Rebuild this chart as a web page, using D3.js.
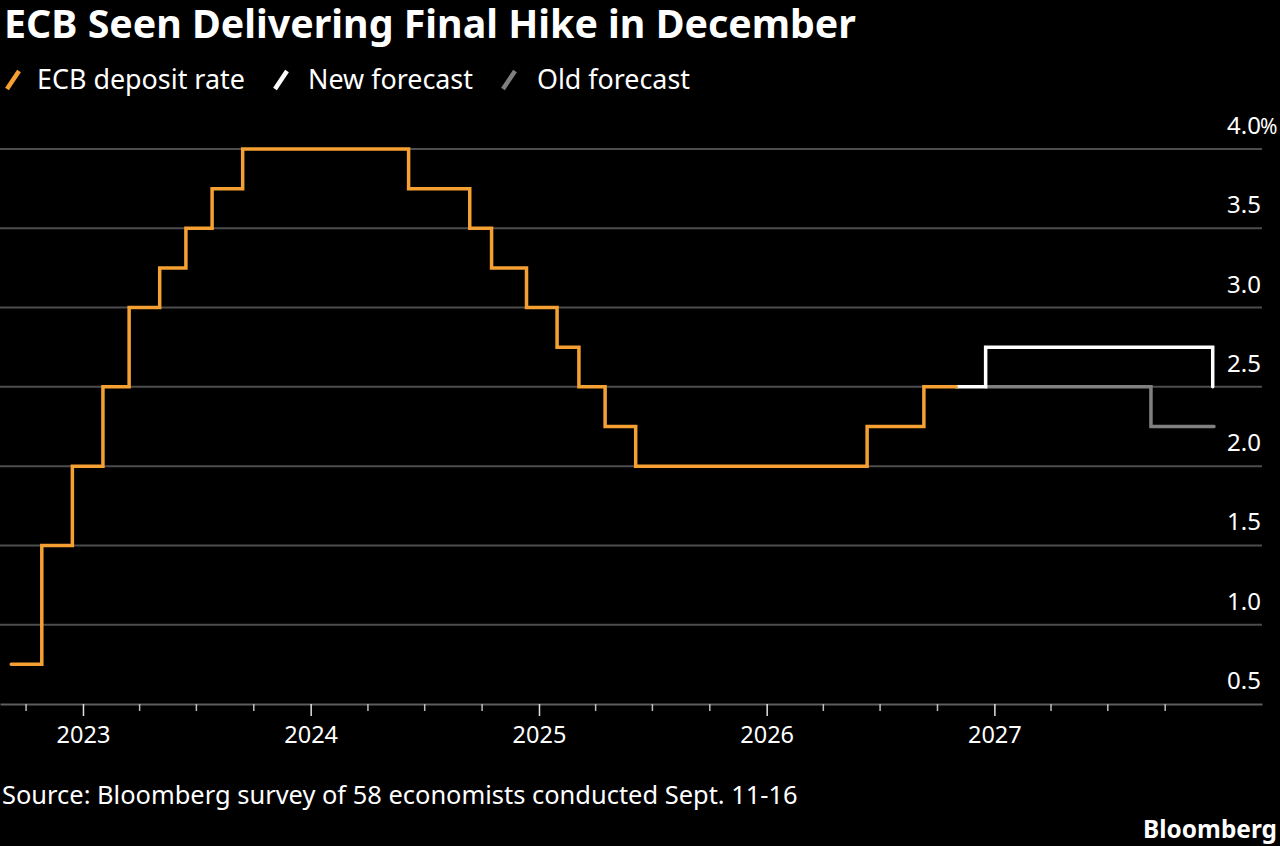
<!DOCTYPE html>
<html>
<head>
<meta charset="utf-8">
<script src="https://cdn.jsdelivr.net/npm/d3@7"></script>
<style>
  body { margin: 0; background: #000; }
  svg { display: block; }
  text { font-family: "Noto Sans", "Open Sans", sans-serif; fill: #fff; }
</style>
</head>
<body>
<div class="chart"></div>
<script>
const svgWidth = 1280;
const svgHeight = 846;

// ECB deposit rate (decision dates, %)
const rateDates = ["2022-09-08", "2022-10-27", "2022-12-15", "2023-02-02", "2023-03-16",
  "2023-05-04", "2023-06-15", "2023-07-27", "2023-09-14", "2024-06-06", "2024-09-12",
  "2024-10-17", "2024-12-12", "2025-01-30", "2025-03-06", "2025-04-17", "2025-06-05",
  "2026-06-11", "2026-09-10", "2026-11-01"];
const rateValues = [0.75, 1.5, 2.0, 2.5, 3.0, 3.25, 3.5, 3.75, 4.0, 3.75, 3.5,
  3.25, 3.0, 2.75, 2.5, 2.25, 2.0, 2.25, 2.5, 2.5];

// New forecast
const newDates = ["2026-11-01", "2026-12-18", "2027-12-17"];
const newValues = [2.5, 2.75, 2.5];

// Old forecast
const oldDates = ["2026-12-18", "2027-09-09", "2027-12-19"];
const oldValues = [2.5, 2.25, 2.25];

const yTicks = [0.5, 1.0, 1.5, 2.0, 2.5, 3.0, 3.5, 4.0];
const legendLabels = ["ECB deposit rate", "New forecast", "Old forecast"];
const colors = { rate: "#f5a033", newF: "#ffffff", oldF: "#808080" };

const parse = d3.timeParse("%Y-%m-%d");
const zip = (ds, vs) => ds.map((d, i) => ({ date: parse(d), value: vs[i] }));

const svg = d3.select(".chart")
  .append("svg")
  .attr("width", svgWidth)
  .attr("height", svgHeight)
  .style("background", "#000");

// shrink/grow font size so a text hits a target width
function fit(sel, target) {
  const size = parseFloat(sel.attr("font-size"));
  const len = sel.node().getComputedTextLength();
  sel.attr("font-size", (size * target / len).toFixed(2));
  return sel;
}

// scales
const x = d3.scaleTime()
  .domain([parse("2022-08-21"), parse("2028-03-05")])
  .range([0, 1262]);

const y = d3.scaleLinear()
  .domain([0.5, 4.0])
  .range([704, 149]);

// gridlines
svg.append("g")
  .selectAll("line")
  .data(yTicks.slice(1))
  .enter()
  .append("line")
  .attr("x1", 0)
  .attr("x2", 1262)
  .attr("y1", d => y(d))
  .attr("y2", d => y(d))
  .attr("stroke", "#4d4d4d")
  .attr("stroke-width", 2);

// y labels
const yLabels = svg.append("g");
yLabels.selectAll("text")
  .data(yTicks)
  .enter()
  .append("text")
  .attr("x", 1261)
  .attr("y", d => y(d) - 15)
  .attr("text-anchor", "end")
  .attr("font-size", 24)
  .text(d => d.toFixed(1));

yLabels.append("text")
  .attr("x", 1260)
  .attr("y", y(4.0) - 15)
  .attr("font-size", 21)
  .text("%");

// x axis, quarterly ticks (none past 2027), year labels
const xAxis = d3.axisBottom(x)
  .tickValues(x.ticks(d3.timeMonth.every(3)).filter(d => d < parse("2028-01-01")))
  .tickSize(7)
  .tickSizeOuter(0)
  .tickFormat(d => d.getMonth() === 0 ? d3.timeFormat("%Y")(d) : "");

const xg = svg.append("g")
  .attr("transform", `translate(0, ${y(0.5)})`)
  .call(xAxis);

xg.select(".domain").attr("stroke", "#5e5e5e").attr("stroke-width", 2);
xg.selectAll(".tick line").attr("stroke", "#bdbdbd").attr("stroke-width", 1.5);
xg.selectAll(".tick")
  .filter(d => d.getMonth() === 0)
  .select("line")
  .attr("y2", 12)
  .attr("stroke", "#e0e0e0");
xg.selectAll(".tick text")
  .attr("fill", "#fff")
  .attr("font-family", "Noto Sans, sans-serif")
  .attr("font-size", 23.5)
  .attr("dy", 0)
  .attr("y", 39);

// lines
const line = d3.line()
  .x(d => x(d.date))
  .y(d => y(d.value))
  .curve(d3.curveStepAfter);

const series = [
  { data: zip(oldDates, oldValues), color: colors.oldF },
  { data: zip(newDates, newValues), color: colors.newF },
  { data: zip(rateDates, rateValues), color: colors.rate }
];

svg.append("g")
  .selectAll("path")
  .data(series)
  .enter()
  .append("path")
  .attr("d", d => line(d.data))
  .attr("fill", "none")
  .attr("stroke", d => d.color)
  .attr("stroke-width", 3.5)
  .attr("stroke-linecap", "round")
  .attr("stroke-linejoin", "miter");

// title
fit(svg.append("text")
  .attr("x", 4)
  .attr("y", 38)
  .attr("font-size", 30)
  .attr("font-weight", 700)
  .text("ECB Seen Delivering Final Hike in December"), 852);

// legend
const legendPos = [
  { icon: 5, text: 37, width: 208, color: colors.rate },
  { icon: 273, text: 308, width: 165, color: colors.newF },
  { icon: 501, text: 537, width: 153, color: colors.oldF }
];

legendLabels.forEach((label, i) => {
  const p = legendPos[i];
  svg.append("line")
    .attr("x1", p.icon + 2)
    .attr("y1", 89)
    .attr("x2", p.icon + 14)
    .attr("y2", 71)
    .attr("stroke", p.color)
    .attr("stroke-width", 4.5)
    .attr("stroke-linecap", "butt");
  fit(svg.append("text")
    .attr("x", p.text)
    .attr("y", 89)
    .attr("font-size", 24)
    .text(label), p.width);
});

// source + branding
fit(svg.append("text")
  .attr("x", 2)
  .attr("y", 804)
  .attr("font-size", 23)
  .text("Source: Bloomberg survey of 58 economists conducted Sept. 11-16"), 796);

fit(svg.append("text")
  .attr("x", 1277)
  .attr("y", 838)
  .attr("text-anchor", "end")
  .attr("font-size", 22)
  .attr("font-weight", 700)
  .text("Bloomberg"), 134);
</script>
</body>
</html>
